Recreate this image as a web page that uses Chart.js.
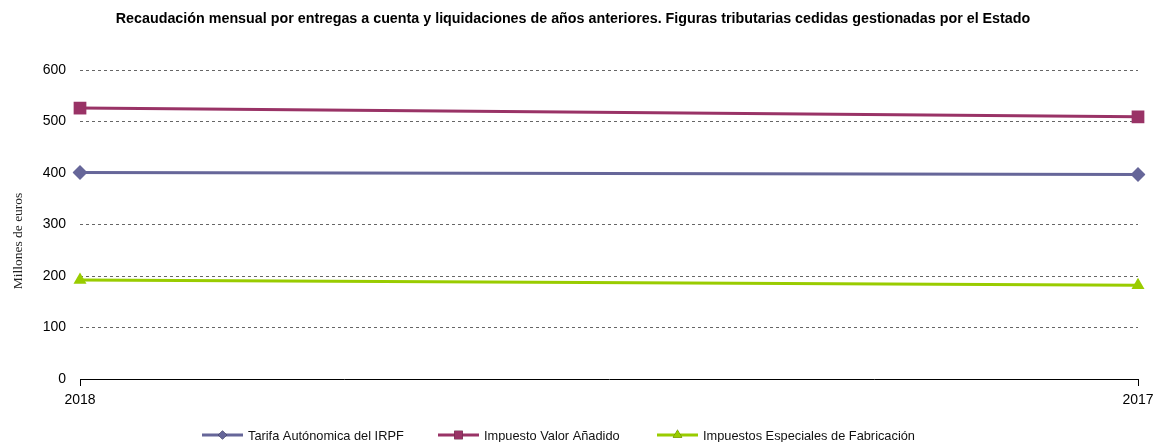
<!DOCTYPE html>
<html>
<head>
<meta charset="utf-8">
<script src="https://cdn.jsdelivr.net/npm/chart.js@4.4.1/dist/chart.umd.min.js"></script>
<style>
html,body{margin:0;padding:0;background:#fff;}
#wrap{width:1155px;height:442px;position:relative;}
</style>
</head>
<body>
<div id="wrap"><canvas id="c" width="1155" height="442"></canvas></div>
<script>
const chartTitle = 'Recaudación mensual por entregas a cuenta y liquidaciones de años anteriores. Figuras tributarias cedidas gestionadas por el Estado';
const yAxisTitle = 'Millones de euros';
const categories = ['2018', '2017'];
const seriesNames = ['Tarifa Autónomica del IRPF', 'Impuesto Valor Añadido', 'Impuestos Especiales de Fabricación'];
const irpfValues = [401, 397];
const ivaValues = [526, 509];
const iefValues = [192, 182];
const yTicks = [0, 100, 200, 300, 400, 500, 600];

const colors = ['#666699', '#993366', '#99CC00'];
const styles = ['rectRot', 'rect', 'triangle'];
const radii = [7.5, 9, 7.5];
const legendRadii = [4.5, 6, 5.5];
const values = [irpfValues, ivaValues, iefValues];

const extras = {
  id: 'extras',
  afterDraw(chart) {
    const ctx = chart.ctx;
    ctx.save();
    // title
    ctx.fillStyle = '#000';
    ctx.font = 'bold 14.3px "Liberation Sans", Arial, sans-serif';
    ctx.textAlign = 'center';
    ctx.textBaseline = 'middle';
    ctx.fillText(chartTitle, 573, 19);
    // y title
    ctx.save();
    ctx.translate(18, 241);
    ctx.rotate(-Math.PI / 2);
    ctx.font = '13.5px "Liberation Serif", "Times New Roman", serif';
    ctx.fillStyle = '#222';
    ctx.fillText(yAxisTitle, 0, 0);
    ctx.restore();
    // legend
    const starts = [202, 438, 657];
    const ly = 435;
    ctx.font = '12.8px "Liberation Sans", Arial, sans-serif';
    ctx.textAlign = 'left';
    seriesNames.forEach((name, i) => {
      const x0 = starts[i];
      ctx.strokeStyle = colors[i];
      ctx.lineWidth = 3;
      ctx.beginPath();
      ctx.moveTo(x0, ly);
      ctx.lineTo(x0 + 41, ly);
      ctx.stroke();
      Chart.helpers.drawPoint(ctx, {pointStyle: styles[i], rotation: 0, radius: legendRadii[i], borderWidth: 0}, x0 + 20.5, ly);
      ctx.fillStyle = colors[i];
      ctx.fill();
      ctx.fillStyle = '#111';
      ctx.fillText(name, x0 + 46, ly + 1);
    });
    ctx.restore();
  }
};

new Chart(document.getElementById('c'), {
  type: 'line',
  data: {
    labels: categories,
    datasets: seriesNames.map((name, i) => ({
      label: name,
      data: values[i],
      borderColor: colors[i],
      backgroundColor: colors[i],
      borderWidth: 3,
      pointStyle: styles[i],
      pointRadius: radii[i],
      pointHoverRadius: radii[i],
      pointBorderWidth: 0,
      tension: 0,
      fill: false
    }))
  },
  options: {
    responsive: false,
    animation: false,
    events: [],
    layout: { padding: { top: 70, left: 0, right: 17, bottom: 34 } },
    plugins: { legend: { display: false }, title: { display: false }, tooltip: { enabled: false } },
    scales: {
      x: {
        type: 'category',
        offset: false,
        afterFit(s) { s.height = 29; s.paddingLeft = 0; s.paddingRight = 0; },
        border: { display: true, color: '#000', width: 1 },
        grid: { drawOnChartArea: false, drawTicks: true, tickLength: 7, color: '#000' },
        ticks: { color: '#000', font: { size: 14, family: '"Liberation Sans", Arial, sans-serif' }, padding: 6, maxRotation: 0, autoSkip: false }
      },
      y: {
        min: 0,
        max: 600,
        afterFit(s) { s.width = 80; },
        afterBuildTicks(s) { s.ticks = yTicks.map(v => ({ value: v })); },
        border: { display: false, dash: [3, 3] },
        grid: { drawTicks: false, color: (c) => c.tick && c.tick.value === 0 ? 'rgba(0,0,0,0)' : '#666', lineWidth: 1 },
        ticks: { color: '#000', padding: 14, font: { size: 14, family: '"Liberation Sans", Arial, sans-serif' } }
      }
    }
  },
  plugins: [extras]
});
</script>
</body>
</html>
